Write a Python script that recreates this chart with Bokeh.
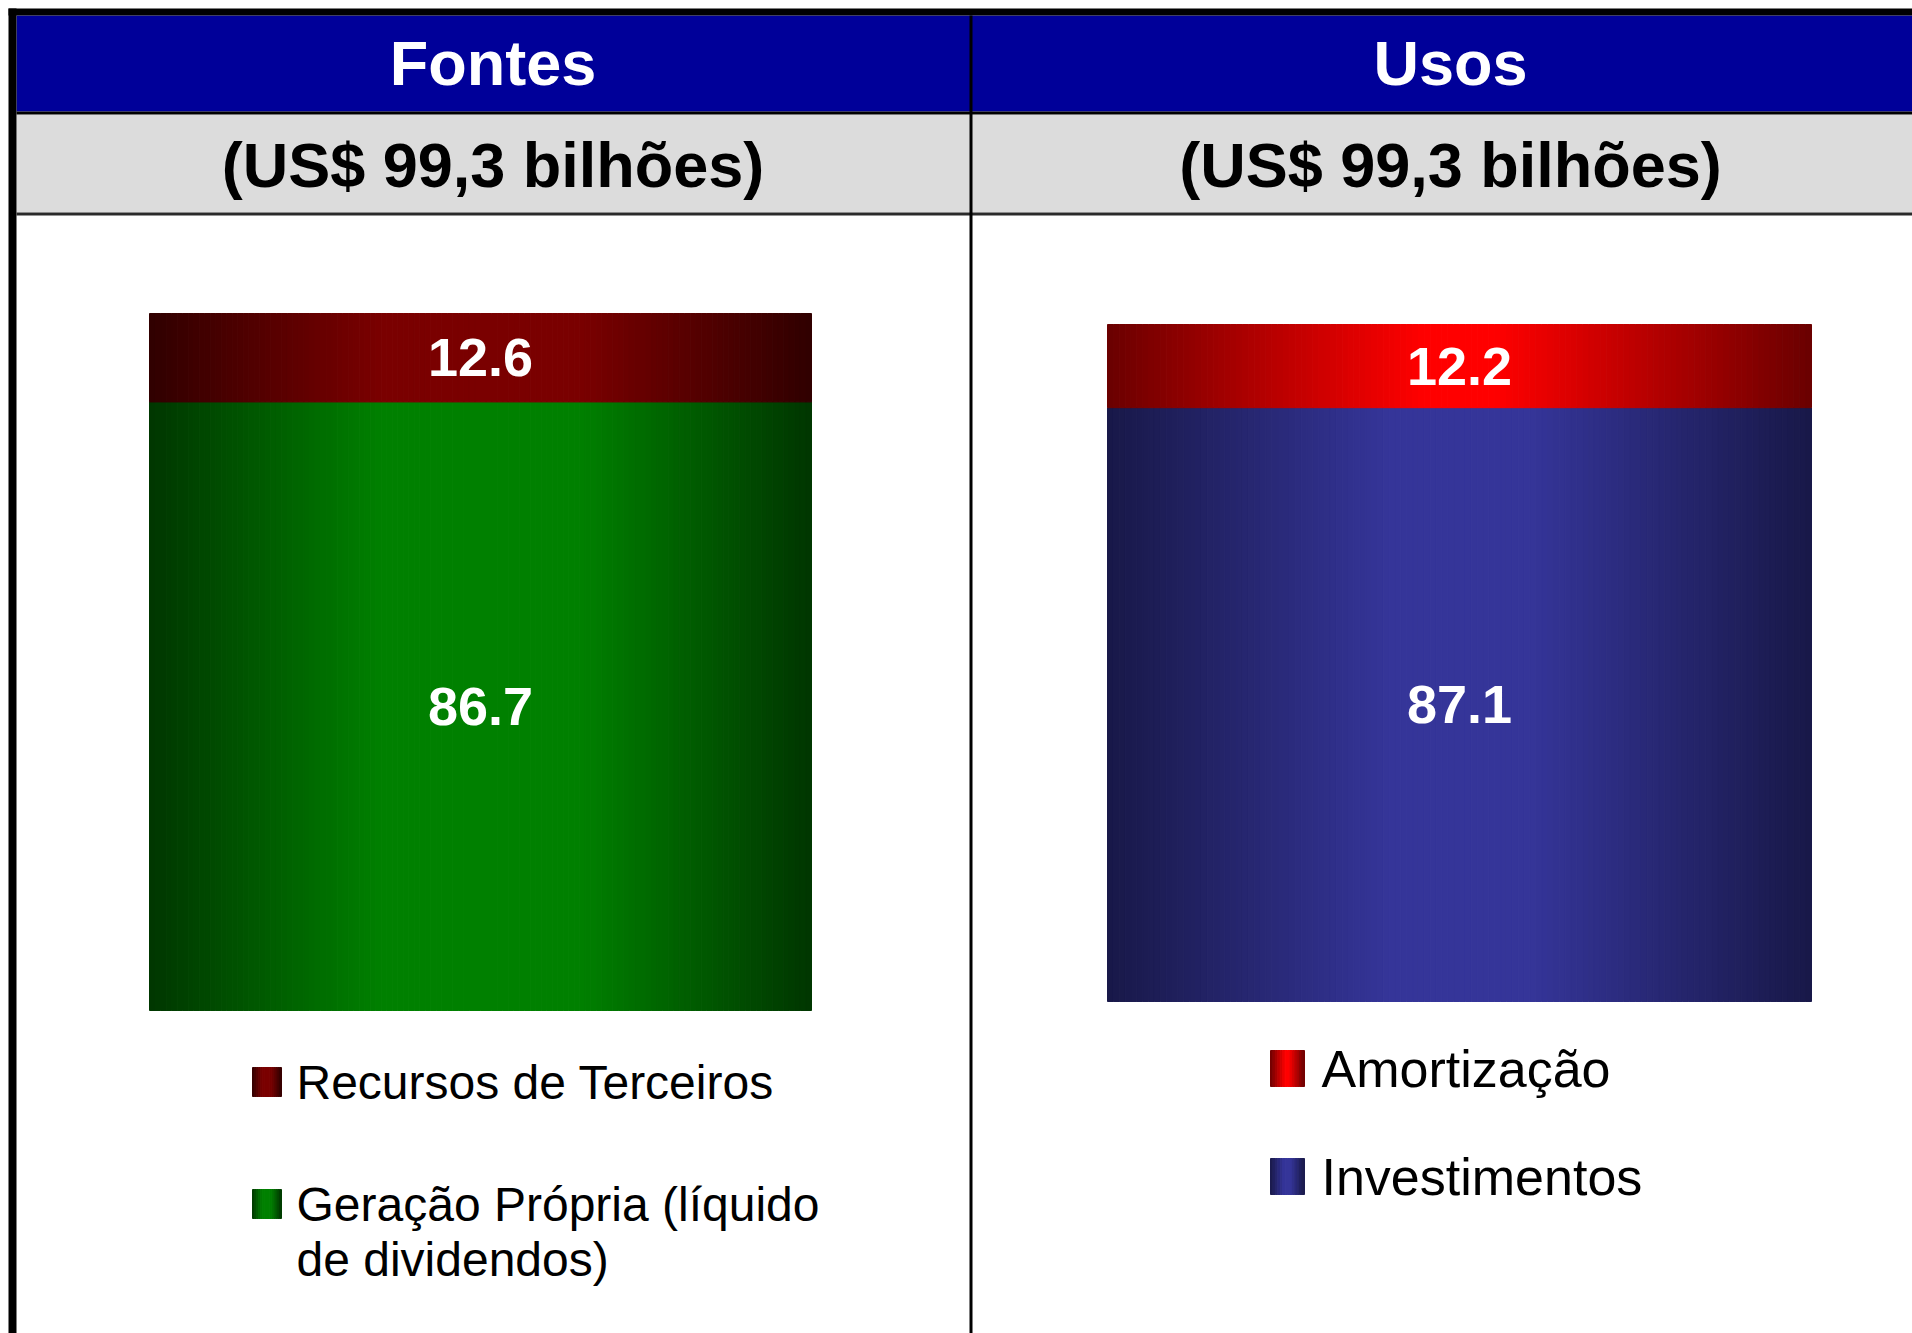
import numpy as np
from bokeh.plotting import figure
from bokeh.models import Range1d
from bokeh.embed import file_html
from bokeh.resources import INLINE
from bokeh.core.properties import value

# ---------------- data ----------------
panel_titles = ["Fontes", "Usos"]
panel_subtitles = ["(US$ 99,3 bilhões)", "(US$ 99,3 bilhões)"]

fontes_labels = ["Geração Própria (líquido\nde dividendos)", "Recursos de Terceiros"]  # bottom -> top
fontes_values = [86.7, 12.6]

usos_labels = ["Investimentos", "Amortização"]  # bottom -> top
usos_values = [87.1, 12.2]

# ---------------- layout / style ----------------
W, H = 1912, 1333
FONT = "Liberation Sans"

def hex_to_rgb(h):
    h = h.lstrip("#")
    return np.array([int(h[i:i + 2], 16) for i in (0, 2, 4)], dtype=float)

def mix_colors(center, edge, plateau, n):
    c, e = hex_to_rgb(center), hex_to_rgb(edge)
    t = (np.arange(n) + 0.5) / n
    d = np.abs(t - 0.5) * 2
    w = np.clip((d - plateau) / (1 - plateau), 0, 1)
    rgb = c[None, :] * (1 - w[:, None]) + e[None, :] * w[:, None]
    return ["#%02x%02x%02x" % tuple(int(round(x)) for x in row) for row in rgb]

def gradient_rect(p, left, right, bottom, top, style, n=120, **kw):
    center, edge, plateau = style
    xs = np.linspace(left, right, n + 1)
    cols = mix_colors(center, edge, plateau, n)
    p.quad(left=xs[:-1], right=xs[1:], bottom=bottom, top=top,
           fill_color=cols, line_color=cols, line_width=1, **kw)

fontes_styles = [("#008000", "#003600", 0.3), ("#7a0000", "#300000", 0.3)]
usos_styles = [("#353599", "#181848", 0.2), ("#ff0000", "#6a0000", 0.1)]

p = figure(width=W, height=H, output_backend="svg", toolbar_location=None,
           x_range=Range1d(0, W), y_range=Range1d(H, 0),
           x_axis_location=None, y_axis_location=None, min_border=0,
           background_fill_color="white", border_fill_color="white")
p.grid.visible = False
p.outline_line_color = None

# table frame (pixel coordinates)
p.quad(left=[16], right=[W], top=[15], bottom=[111], fill_color="#000099", line_color=None)
p.quad(left=[16], right=[W], top=[114], bottom=[212], fill_color="#dcdcdc", line_color=None)
p.quad(left=[8], right=[W], top=[8], bottom=[15], fill_color="black", line_color=None)
p.quad(left=[8], right=[16], top=[8], bottom=[H], fill_color="black", line_color=None)
p.quad(left=[16], right=[W], top=[111], bottom=[114], fill_color="black", line_color=None)
p.quad(left=[16], right=[W], top=[212], bottom=[215], fill_color="#2a2a2a", line_color=None)
p.quad(left=[969], right=[972], top=[15], bottom=[H], fill_color="black", line_color=None)

col_centers = [492.5, 1450]
p.text(x=col_centers, y=[62, 62], text=panel_titles, text_font=value(FONT),
       text_font_style="bold", text_font_size="63px", text_color="white",
       text_align="center", text_baseline="middle")
p.text(x=col_centers, y=[164, 164], text=panel_subtitles, text_font=value(FONT),
       text_font_style="bold", text_font_size="63px", text_color="black",
       text_align="center", text_baseline="middle")

def add_panel(name, values, styles, bar_left, bar_right, px_zero, px_top, label_size):
    total = sum(values)
    k = (px_zero - px_top) / total
    s = -(H - px_zero) / k
    p.extra_y_ranges[name] = Range1d(s, s + H / k)
    tops = np.cumsum(values)
    bottoms = tops - np.array(values)
    for b, t, st in zip(bottoms, tops, styles):
        gradient_rect(p, bar_left, bar_right, b, t, st, y_range_name=name)
    mids = (bottoms + tops) / 2
    p.text(x=[(bar_left + bar_right) / 2] * len(values), y=list(mids),
           text=["%.1f" % v for v in values], y_range_name=name,
           text_font=value(FONT), text_font_style="bold",
           text_font_size="%dpx" % label_size, text_color="white",
           text_align="center", text_baseline="middle")

add_panel("fontes", fontes_values, fontes_styles, 149, 811, 1010, 313, 54)
add_panel("usos", usos_values, usos_styles, 1107, 1811, 1001, 324, 54)

def add_legend(labels, styles, sw_left, sw_w, sw_h, first_top, spacing,
               text_x, font_size, line_h):
    items = list(zip(labels, styles))[::-1]  # top segment first
    for i, (lab, st) in enumerate(items):
        top = first_top + i * spacing
        gradient_rect(p, sw_left, sw_left + sw_w, top + sw_h, top, st, n=14)
        mid = top + sw_h / 2
        lines = lab.split("\n")
        p.text(x=[text_x] * len(lines), y=[mid + j * line_h for j in range(len(lines))],
               text=lines, text_font=value(FONT), text_font_size="%dpx" % font_size,
               text_color="black", text_align="left", text_baseline="middle")

add_legend(fontes_labels, fontes_styles, 252, 29, 29, 1067, 122, 296, 48, 55)
add_legend(usos_labels, usos_styles, 1270, 34, 36, 1050, 108, 1321, 52, 55)

open("out.html", "w").write(file_html(p, INLINE))
